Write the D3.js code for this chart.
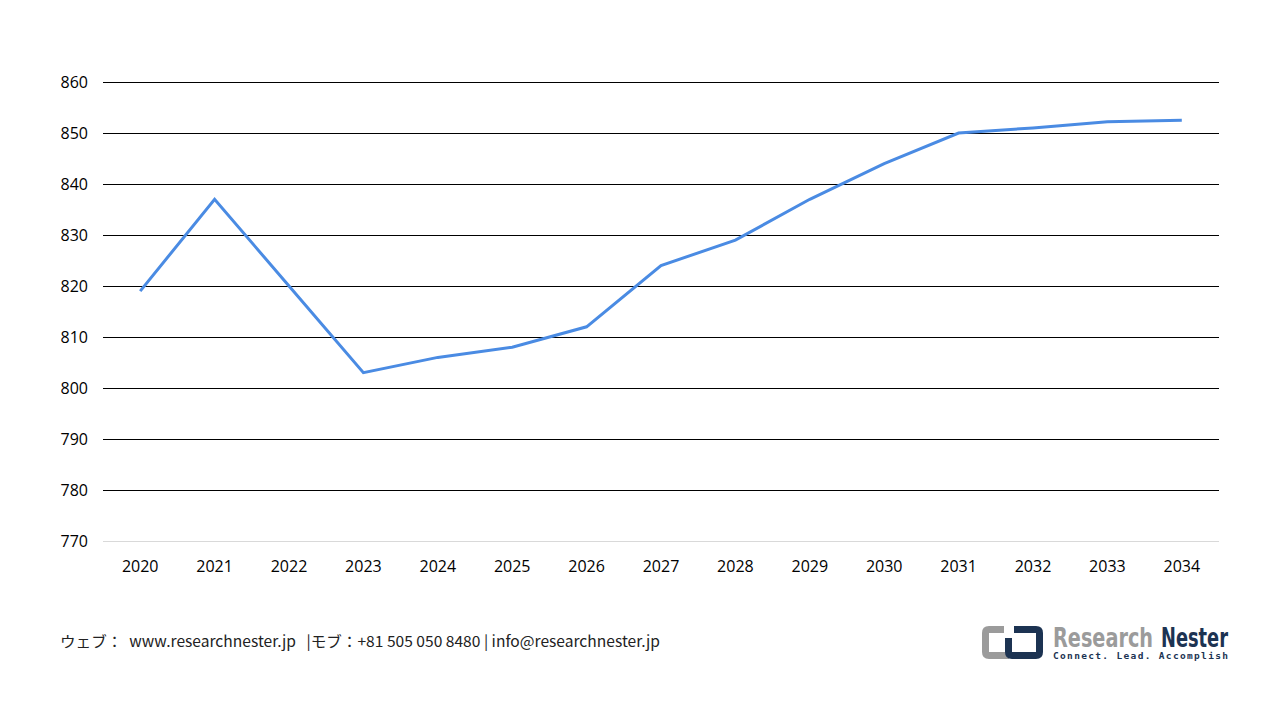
<!DOCTYPE html>
<html>
<head>
<meta charset="utf-8">
<script src="https://cdn.jsdelivr.net/npm/d3@7"></script>
<style>
  body { margin: 0; background: #fff; }
  svg { display: block; }
</style>
</head>
<body>
<div id="chart"></div>
<script>
// Chart data
const years = ["2020", "2021", "2022", "2023", "2024", "2025", "2026", "2027",
  "2028", "2029", "2030", "2031", "2032", "2033", "2034"];
const values = [819, 837, 820, 803, 806, 808, 812, 824, 829, 837, 844, 850, 851, 852.2, 852.5];
const yTicks = [770, 780, 790, 800, 810, 820, 830, 840, 850, 860];

const width = 1280;
const height = 720;
const margin = {left: 103, right: 61, top: 82, bottom: 179};
const tickFont = "'Open Sans', sans-serif";

const svg = d3.select("#chart")
  .append("svg")
  .attr("width", width)
  .attr("height", height);

// Scales
const xScale = d3.scalePoint()
  .domain(years)
  .range([margin.left, width - margin.right])
  .padding(0.5);

const yScale = d3.scaleLinear()
  .domain([770, 860])
  .range([height - margin.bottom, margin.top]);

// Grid lines (the bottom one is light grey)
svg.append("g")
  .selectAll("line")
  .data(yTicks)
  .enter()
  .append("line")
  .attr("x1", margin.left)
  .attr("x2", width - margin.right)
  .attr("y1", d => yScale(d) + 0.5)
  .attr("y2", d => yScale(d) + 0.5)
  .attr("stroke", d => d === 770 ? "#d9d9d9" : "#000")
  .attr("stroke-width", 1);

// Y axis labels
svg.append("g")
  .selectAll("text")
  .data(yTicks)
  .enter()
  .append("text")
  .attr("x", 88)
  .attr("y", d => yScale(d))
  .attr("dy", "0.36em")
  .attr("text-anchor", "end")
  .attr("font-family", tickFont)
  .attr("font-size", "16px")
  .attr("fill", "#000")
  .text(d => d);

// X axis labels
svg.append("g")
  .selectAll("text")
  .data(years)
  .enter()
  .append("text")
  .attr("x", d => xScale(d))
  .attr("y", 572)
  .attr("text-anchor", "middle")
  .attr("font-family", tickFont)
  .attr("font-size", "16px")
  .attr("fill", "#000")
  .text(d => d);

// Line
const line = d3.line()
  .x((d, i) => xScale(years[i]))
  .y(d => yScale(d));

svg.append("path")
  .datum(values)
  .attr("d", line)
  .attr("fill", "none")
  .attr("stroke", "#4a8be3")
  .attr("stroke-width", 3);

// Footer
svg.append("text")
  .attr("x", 60)
  .attr("y", 647)
  .attr("font-family", "'Noto Sans CJK JP', 'Open Sans', sans-serif")
  .attr("font-size", "15px")
  .attr("fill", "#222")
  .style("white-space", "pre")
  .attr("textLength", 600)
  .attr("lengthAdjust", "spacingAndGlyphs")
  .text("ウェブ：  www.researchnester.jp   |モブ：+81 505 050 8480 | info@researchnester.jp");

// Logo
const logo = svg.append("g").attr("transform", "translate(982,626)");
logo.append("path")
  .attr("d", "M22,0 H7 Q0,0 0,7 V26 Q0,33 7,33 H27 V26 H7 V7 H22 Z")
  .attr("fill", "#9b9b9b");
logo.append("path")
  .attr("d", "M32,0 H54 Q61,0 61,7 V26 Q61,33 54,33 H30 Q23,33 23,26 V12 H30 V26 H54 V7 H32 Z")
  .attr("fill", "#1c3352");
logo.append("text")
  .attr("x", 71)
  .attr("y", 21)
  .attr("font-family", "'DejaVu Sans Condensed', 'Liberation Sans', sans-serif")
  .attr("font-weight", "bold")
  .attr("font-size", "26px")
  .attr("fill", "#9b9b9b")
  .attr("textLength", 100)
  .attr("lengthAdjust", "spacingAndGlyphs")
  .text("Research");
logo.append("text")
  .attr("x", 179)
  .attr("y", 21)
  .attr("font-family", "'DejaVu Sans Condensed', 'Liberation Sans', sans-serif")
  .attr("font-weight", "bold")
  .attr("font-size", "26px")
  .attr("fill", "#1c3352")
  .attr("textLength", 67)
  .attr("lengthAdjust", "spacingAndGlyphs")
  .text("Nester");
logo.append("text")
  .attr("x", 71)
  .attr("y", 33)
  .attr("font-family", "'DejaVu Sans Mono', monospace")
  .attr("font-weight", "bold")
  .attr("font-size", "9.5px")
  .attr("fill", "#1c3352")
  .attr("textLength", 175)
  .attr("lengthAdjust", "spacing")
  .text("Connect. Lead. Accomplish");
</script>
</body>
</html>
